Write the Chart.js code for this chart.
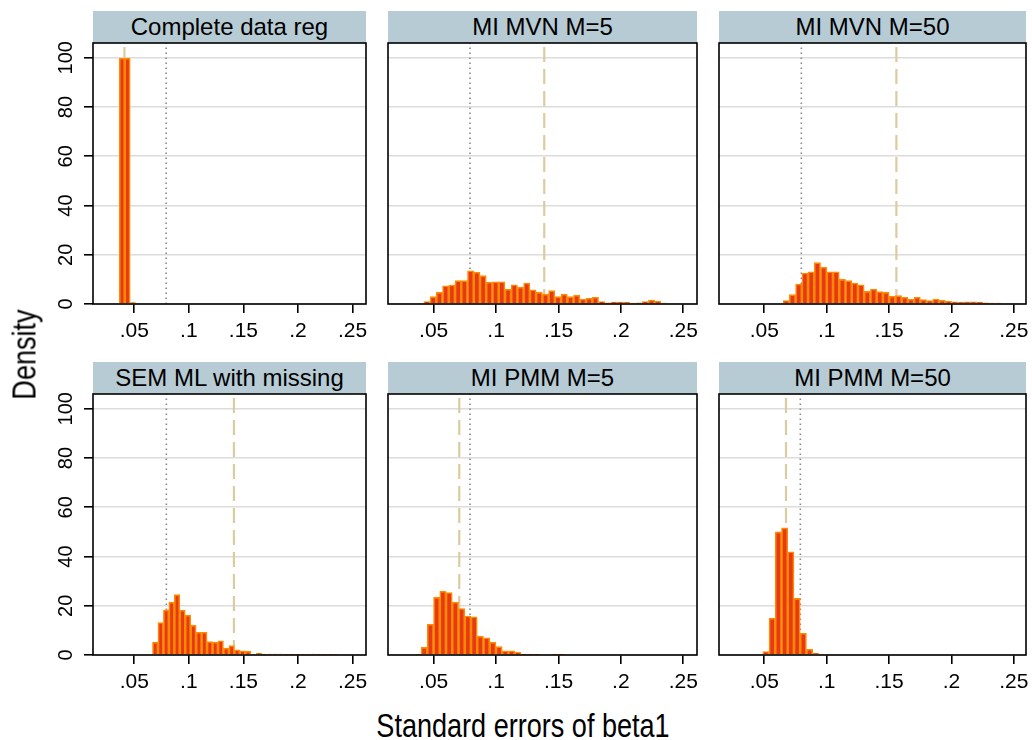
<!DOCTYPE html>
<html><head><meta charset="utf-8">
<script src="https://cdn.jsdelivr.net/npm/chart.js@4.4.1/dist/chart.umd.min.js"></script>
<style>
body{margin:0;background:#fff;width:1032px;height:740px;position:relative;overflow:hidden;font-family:'Liberation Sans',Arial,sans-serif}
canvas{position:absolute}
.hdr{position:absolute;background:#b7cbd5;color:#000;font-size:24px;line-height:32px;height:32px;text-align:center;white-space:nowrap}
.lbl{position:absolute;font-family:'Liberation Sans',Arial,sans-serif;font-size:33px;line-height:33px;height:33px;text-align:center;white-space:nowrap;color:#000}
</style></head><body>
<script>
// ---------- data ----------
const panelTitles = ['Complete data reg','MI MVN M=5','MI MVN M=50','SEM ML with missing','MI PMM M=5','MI PMM M=50'];
const binWidth = 0.005;
const binStarts = [0.0388, 0.0446, 0.0676, 0.0642, 0.0374, 0.0513];
const densComplete = [99.8, 99.8, 0.6];
const densMvn5 = [1, 3, 4.7, 7.4, 7.7, 9.5, 9.5, 13.5, 12.9, 11.5, 8.8, 9, 9, 6, 7.8, 6.8, 8.5, 5.8, 4.7, 4, 5.4, 3, 4, 3, 3.6, 2, 2.3, 2.7, 1, 0.5, 0.8, 0.8, 0.7, 0.4, 0.5, 1, 1.6, 1.1, 0.4];
const densMvn50 = [1.4, 3.8, 8.1, 12.6, 13.1, 16.8, 14.9, 13.1, 13.1, 10, 9.5, 8.5, 7.8, 5.1, 6.1, 5, 4.7, 3.2, 3.4, 2.7, 1.9, 2.7, 1.8, 1.4, 2, 1.5, 1.1, 0.9, 0.7, 0.9, 0.9, 0.8, 0.5, 0.4, 0.4];
const densSem = [0.3, 5.2, 13.2, 18.3, 21.4, 24.5, 18.2, 16.2, 12, 9.2, 9.2, 5.4, 5.2, 5.8, 2.8, 3.8, 2.1, 1.7, 1.5, 0.3, 0.7, 0.1, 0.4, 0.4, 0.4, 0.2, 0.1, 0.1, 0.2, 0.2, 0.4, 0.2, 0.2, 0.2, 0.2];
const densPmm5 = [0.2, 3.1, 12.5, 23.4, 25.9, 25.4, 21.4, 18.9, 15.8, 15.5, 7.6, 7, 5.2, 3.4, 1.7, 1.7, 1.1, 0.15, 0.15, 0.15, 0, 0, 0.15, 0.15];
const densPmm50 = [1.4, 14.9, 50, 51.6, 41.9, 23, 8.8, 2.3, 0.7, 0.3, 0.3];
const refDotted = [0.0792, 0.0791, 0.0797, 0.0794, 0.0791, 0.0789];
const refDashed = [0.0410, 0.1386, 0.1559, 0.1413, 0.0705, 0.0674];
const xTickValues = [0.05, 0.1, 0.15, 0.2, 0.25];
const xTickLabels = ['.05', '.1', '.15', '.2', '.25'];
const yTickValues = [0, 20, 40, 60, 80, 100];
const yTickLabels = ['0', '20', '40', '60', '80', '100'];
const xAxisTitle = 'Standard errors of beta1';
const yAxisTitle = 'Density';

// ---------- layout ----------
const densities = [densComplete, densMvn5, densMvn50, densSem, densPmm5, densPmm50];
const colLeft = [93, 388, 719];
const colWidth = [273, 309, 307];
const colXMin = [0.0122, 0.0134, 0.0137];
const colXMax = [0.2623, 0.2610, 0.2598];
const rowTop = [43, 394];
const rowHeadTop = [11, 362];
const areaH = 261, yMax = 106;
const tickFont = "'Liberation Sans',Arial,sans-serif";

const framePlugin = {
  id: 'frame',
  afterDatasetsDraw(chart) {
    const {ctx, chartArea: a} = chart;
    ctx.save();
    ctx.strokeStyle = '#000';
    ctx.lineWidth = 1.6;
    ctx.strokeRect(a.left, a.top, a.right - a.left, a.bottom - a.top);
    ctx.restore();
  }
};

function addDiv(cls, text, styles) {
  const d = document.createElement('div');
  d.className = cls;
  d.textContent = text;
  Object.assign(d.style, styles);
  document.body.appendChild(d);
  return d;
}

for (let p = 0; p < 6; p++) {
  const row = Math.floor(p / 3), col = p % 3;
  const L = colLeft[col], T = rowTop[row], W = colWidth[col];
  const showY = col === 0;
  const yW = showY ? 53 : 0, padL = showY ? 0 : 2, padT = 2, padR = 3, xH = 46;

  addDiv('hdr', panelTitles[p], {left: L + 'px', top: rowHeadTop[row] + 'px', width: W + 'px'});

  const cv = document.createElement('canvas');
  const cw = padL + yW + W + padR, ch = padT + areaH + xH;
  cv.width = cw; cv.height = ch;
  cv.style.left = (L - yW - padL) + 'px';
  cv.style.top = (T - padT) + 'px';
  cv.style.width = cw + 'px'; cv.style.height = ch + 'px';
  document.body.appendChild(cv);

  const bars = densities[p].map((h, i) => ({x: binStarts[p] + i * binWidth, y: h})).filter(d => d.y > 0);

  new Chart(cv, {
    type: 'bar',
    data: {
      datasets: [
        {type: 'bar', data: bars, backgroundColor: '#e63a17', borderColor: '#ff8a00', borderWidth: 1.6,
         borderSkipped: 'start', barPercentage: 1, categoryPercentage: 1, grouped: false, order: 0},
        {type: 'line', data: [{x: refDotted[p], y: 0}, {x: refDotted[p], y: yMax}], borderColor: '#8a8a8a',
         borderWidth: 1.6, borderDash: [1.5, 3.5], pointRadius: 0, fill: false, order: 2},
        {type: 'line', data: [{x: refDashed[p], y: 0}, {x: refDashed[p], y: yMax}], borderColor: '#dccb9f',
         borderWidth: 2.2, borderDash: [15, 7], pointRadius: 0, fill: false, order: 1}
      ]
    },
    plugins: [framePlugin],
    options: {
      responsive: false, animation: false, events: [],
      layout: {padding: {left: padL, top: padT, right: padR, bottom: 0}},
      plugins: {legend: {display: false}, tooltip: {enabled: false}},
      scales: {
        x: {
          type: 'linear', min: colXMin[col], max: colXMax[col], offset: false,
          afterBuildTicks: s => { s.ticks = xTickValues.map(v => ({value: v})); },
          afterFit: s => { s.height = xH; s.paddingLeft = 0; s.paddingRight = 0; },
          border: {display: false},
          grid: {display: true, offset: false, drawOnChartArea: false, drawTicks: true, tickLength: 9, tickColor: '#000', lineWidth: 1.6, color: '#000'},
          ticks: {autoSkip: false, maxRotation: 0, minRotation: 0, padding: 6, color: '#000',
                  font: {family: tickFont, size: 21},
                  callback: v => xTickLabels[xTickValues.indexOf(v)]}
        },
        y: {
          type: 'linear', min: 0, max: yMax,
          afterBuildTicks: s => { s.ticks = yTickValues.map(v => ({value: v})); },
          afterFit: s => { s.width = yW; s.paddingTop = 0; s.paddingBottom = 0; },
          border: {display: false},
          grid: {display: true, drawOnChartArea: true, drawTicks: showY, tickLength: 9, tickColor: '#000', lineWidth: 1.6, color: '#dcdcdc'},
          ticks: {display: showY, minRotation: 90, maxRotation: 90, crossAlign: 'center', padding: 1, color: '#000',
                  font: {family: tickFont, size: 20},
                  callback: v => yTickLabels[yTickValues.indexOf(v)]}
        }
      }
    }
  });
}

// axis titles (condensed like the reference's narrow face)
addDiv('lbl', xAxisTitle, {left: (523 - 250) + 'px', top: '709px', width: '500px', transform: 'scaleX(0.82)'});
addDiv('lbl', yAxisTitle, {left: (23.5 - 100) + 'px', top: (354.5 - 16.5) + 'px', width: '200px', transform: 'rotate(-90deg) scaleX(0.82)'});
</script>
</body></html>
